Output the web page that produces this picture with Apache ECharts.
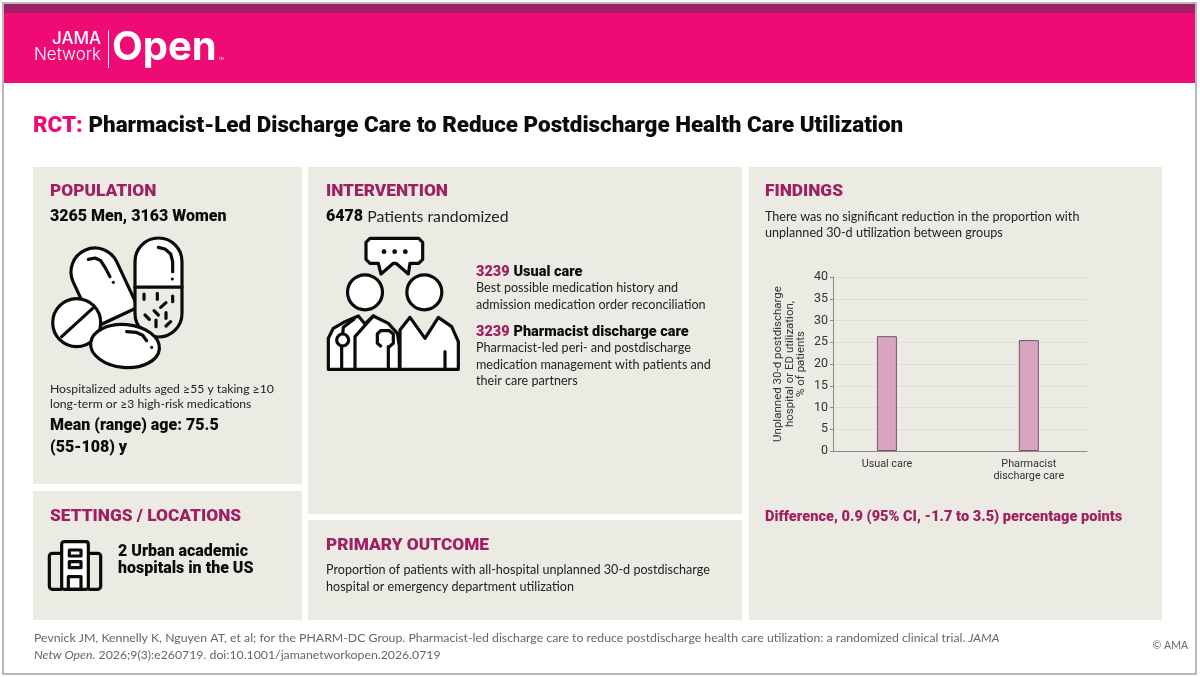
<!DOCTYPE html>
<html>
<head>
<meta charset="utf-8">
<title>RCT: Pharmacist-Led Discharge Care</title>
<script src="https://cdn.jsdelivr.net/npm/echarts@6/dist/echarts.min.js"></script>
<style>
html, body { margin: 0; padding: 0; background: #fff; }
#main { width: 1200px; height: 677px; }
</style>
</head>
<body>
<div id="main"></div>
<script>
// values in the Findings panel
var categories = ['Usual care', 'Pharmacist\ndischarge care'];
var categoryPositions = [0, 1];
var patientsPct = [26.4, 25.5];
var yTicks = [0, 40, 5];

var INK = '#0b0b0b', PANEL = '#ecebe3', PLUM = '#a01f62', PINK = '#ef0b74', BODY = '#222';
var SANS = 'Lato, sans-serif', HEAD = 'Roboto, sans-serif';
var BODY_SIZE = 12.6;

function text(x, y, str, size, o) {
    o = o || {};
    return {
        type: 'text', x: x, y: y, z: -1,
        style: {
            text: str, fill: o.fill || BODY, rich: o.rich,
            font: (o.italic ? 'italic ' : '') + (o.weight || 'normal') + ' ' + size + 'px ' + (o.family || SANS),
            align: o.align || 'left', verticalAlign: 'middle'
        }
    };
}
function head(x, y, str) { return text(x, y + 1, str, 17.3, { fill: PLUM, weight: 900, family: HEAD }); }
function bold(x, y, str, size) { return text(x, y + 1, str, size, { fill: INK, weight: 900, family: HEAD }); }
function panel(x, y, w, h) {
    return { type: 'rect', z: -1, shape: { x: x, y: y, width: w, height: h }, style: { fill: PANEL } };
}
var LINE = { stroke: INK, lineWidth: 3.2, lineCap: 'round', lineJoin: 'round', fill: null };
function s(extra) { return Object.assign({}, LINE, extra || {}); }
function seg(pts, ox, oy, lw) {
    return {
        type: 'polyline', z: -1,
        shape: { points: pts.map(function (p) { return [ox + p[0] / 3, oy + p[1] / 3]; }) },
        style: s({ lineWidth: lw || 3.2 })
    };
}
function poly(pts, ox, oy, fill) {
    return {
        type: 'polygon', z: -1,
        shape: { points: pts.map(function (p) { return [ox + p[0] / 3, oy + p[1] / 3]; }) },
        style: s({ fill: fill })
    };
}
function dot(x, y, r) {
    return { type: 'circle', z: -1, shape: { cx: x, cy: y, r: r }, style: { fill: INK } };
}

// pills icon
function pills() {
    var ox = 30, oy = 230, out = [];
    out.push({
        type: 'group', x: 95, y: 272, rotation: 25 * Math.PI / 180,
        children: [
            { type: 'rect', z: -1, shape: { x: -24, y: 50, width: 48, height: 48, r: [0, 0, 24, 24] }, style: s({ fill: PANEL }) },
            { type: 'rect', z: -1, shape: { x: -24, y: -24, width: 48, height: 74, r: [24, 24, 0, 0] }, style: s({ fill: '#fff' }) }
        ]
    });
    out.push(seg([[175, 88], [195, 84], [212, 92], [225, 112], [240, 140]], ox, oy));
    out.push(dot(30 + 250 / 3, 230 + 157 / 3, 1.6));
    out.push({ type: 'rect', z: -1, shape: { x: 135, y: 287, width: 47, height: 50, r: [0, 0, 23.5, 23.5] }, style: s({ fill: PANEL }) });
    out.push({ type: 'rect', z: -1, shape: { x: 135, y: 238, width: 47, height: 49, r: [23.5, 23.5, 0, 0] }, style: s({ fill: '#fff' }) });
    out.push(seg([[385, 52], [405, 57], [422, 72], [428, 95], [428, 125]], ox, oy));
    out.push(dot(30 + 427 / 3, 230 + 147 / 3, 1.6));
    [
        [[342, 192], [342, 208]], [[382, 190], [382, 208]], [[428, 198], [428, 215]],
        [[392, 232], [408, 218]], [[372, 242], [385, 255]], [[408, 248], [408, 265]],
        [[345, 255], [358, 268]], [[378, 270], [378, 290]], [[408, 288], [422, 275]]
    ].forEach(function (g) { out.push(seg(g, ox, oy)); });
    out.push({ type: 'circle', z: -1, shape: { cx: 76.7, cy: 322.7, r: 24 }, style: s({ fill: '#fff' }) });
    out.push(seg([[95, 320], [188, 235]], ox, oy));
    out.push({
        type: 'ellipse', z: -1, rotation: -5 * Math.PI / 180, x: 125, y: 346,
        shape: { cx: 0, cy: 0, rx: 34.5, ry: 21.5 }, style: s({ fill: '#fff' })
    });
    out.push(seg([[290, 305], [318, 307], [338, 316], [350, 332]], ox, oy));
    out.push(dot(30 + 365 / 3, 230 + 352 / 3, 1.6));
    return out;
}

// clinician and patient icon
function people() {
    var ox = 310, oy = 230, out = [];
    out.push(poly([[270, 418], [270, 300], [300, 262], [345, 325], [385, 262], [425, 290], [445, 335], [445, 418]], ox, oy, '#fff'));
    out.push(seg([[405, 365], [405, 418]], ox, oy));
    out.push(poly([[55, 418], [55, 325], [70, 295], [105, 275], [145, 258], [165, 282], [190, 258], [235, 280], [262, 310], [268, 350], [268, 418]], ox, oy, '#fff'));
    out.push(seg([[135, 418], [135, 320], [190, 258]], ox, oy));
    out.push(seg([[95, 350], [95, 418]], ox, oy));
    out.push(seg([[235, 350], [235, 418]], ox, oy));
    out.push(seg([[98, 312], [100, 292], [132, 268]], ox, oy));
    out.push({ type: 'circle', z: -1, shape: { cx: 310 + 98 / 3, cy: 230 + 330 / 3, r: 6 }, style: s({ fill: '#fff' }) });
    out.push(seg([[212, 348], [202, 340], [202, 312], [212, 302], [238, 302], [250, 312], [250, 340], [238, 350]], ox, oy));
    out.push({ type: 'circle', z: -1, shape: { cx: 310 + 165 / 3, cy: 230 + 187 / 3, r: 17.5 }, style: s({ fill: '#fff' }) });
    out.push({ type: 'circle', z: -1, shape: { cx: 310 + 343 / 3, cy: 230 + 187 / 3, r: 17.5 }, style: s({ fill: '#fff' }) });
    out.push(poly([[180, 25], [326, 25], [338, 37], [338, 88], [326, 100], [300, 100], [295, 132], [258, 100], [250, 100], [213, 132], [205, 100], [180, 100], [168, 88], [168, 37]], ox, oy, '#fff'));
    out.push(dot(310 + 222 / 3, 230 + 65 / 3, 2.4));
    out.push(dot(310 + 254 / 3, 230 + 65 / 3, 2.4));
    out.push(dot(310 + 286 / 3, 230 + 65 / 3, 2.4));
    return out;
}

// hospital icon
function hospital() {
    var ox = 30, oy = 530;
    function r(x0, y0, x1, y1, rad) {
        return {
            type: 'rect', z: -1,
            shape: { x: ox + x0 / 3, y: oy + y0 / 3, width: (x1 - x0) / 3, height: (y1 - y0) / 3, r: rad || 0 },
            style: s({ fill: rad === 2.5 ? '#fff' : null })
        };
    }
    return [
        r(58, 70, 100, 178, 3), r(170, 70, 212, 178, 3), r(95, 35, 175, 178, 2.5),
        r(118, 60, 153, 78), r(118, 95, 153, 113), r(115, 140, 153, 178)
    ];
}

var graphicEls = [
    { type: 'rect', z: -1, shape: { x: 3, y: 3, width: 1193, height: 671 }, style: { fill: '#fff', stroke: '#a3a3a3', lineWidth: 1.5 } },
    { type: 'rect', z: -1, shape: { x: 4, y: 4, width: 1191, height: 79 }, style: { fill: PINK } },
    { type: 'rect', z: -1, shape: { x: 4, y: 4, width: 1191, height: 9 }, style: { fill: PLUM } },
    text(101, 39, 'JAMA', 17, { fill: '#fff', align: 'right', family: 'Inter, sans-serif', weight: 500 }),
    text(101, 55, 'Network', 17, { fill: '#fff', align: 'right', family: 'Inter, sans-serif', weight: 300 }),
    { type: 'line', z: -1, shape: { x1: 108.5, y1: 30, x2: 108.5, y2: 68 }, style: { stroke: '#fff', lineWidth: 1 } },
    text(112, 48, 'Open', 40, { fill: '#fff', family: 'Inter, sans-serif', weight: 700 }),
    text(219, 59, 'TM', 3, { fill: '#fff' }),
    text(33, 126, '{a|RCT:} {b|Pharmacist-Led Discharge Care to Reduce Postdischarge Health Care Utilization}', 22.4, {
        weight: 900, family: HEAD,
        rich: {
            a: { fill: PINK, font: '900 22.4px ' + HEAD },
            b: { fill: INK, font: '900 22.4px ' + HEAD }
        }
    }),
    panel(33, 167, 269, 317), panel(33, 491, 269, 129),
    panel(308, 167, 434, 347), panel(308, 520, 434, 100),
    panel(749, 167, 413, 453),

    head(50, 191, 'POPULATION'),
    bold(50, 216, '3265 Men, 3163 Women', 16),
    text(50, 389, 'Hospitalized adults aged \u226555 y taking \u226510', 12.2),
    text(50, 404, 'long-term or \u22653 high-risk medications', 12.2),
    bold(50, 425, 'Mean (range) age: 75.5', 16),
    bold(50, 447, '(55-108) y', 16),

    head(50, 516, 'SETTINGS / LOCATIONS'),
    bold(118, 551, '2 Urban academic', 16),
    bold(118, 568, 'hospitals in the US', 16),

    head(326, 191, 'INTERVENTION'),
    text(326, 217, '{a|6478} {b|Patients randomized}', 16, {
        rich: { a: { fill: INK, font: '900 16px ' + HEAD }, b: { fill: BODY, font: '15.8px ' + SANS } }
    }),
    text(476, 272, '{a|3239} {b|Usual care}', 15, {
        rich: { a: { fill: PLUM, font: '900 14.5px ' + HEAD }, b: { fill: INK, font: '900 14.5px ' + HEAD } }
    }),
    text(476, 288, 'Best possible medication history and', BODY_SIZE),
    text(476, 305, 'admission medication order reconciliation', BODY_SIZE),
    text(476, 332, '{a|3239} {b|Pharmacist discharge care}', 15, {
        rich: { a: { fill: PLUM, font: '900 14.5px ' + HEAD }, b: { fill: INK, font: '900 14.5px ' + HEAD } }
    }),
    text(476, 348, 'Pharmacist-led peri- and postdischarge', BODY_SIZE),
    text(476, 365, 'medication management with patients and', BODY_SIZE),
    text(476, 381, 'their care partners', BODY_SIZE),

    head(326, 545, 'PRIMARY OUTCOME'),
    text(326, 570, 'Proportion of patients with all-hospital unplanned 30-d postdischarge', BODY_SIZE),
    text(326, 587, 'hospital or emergency department utilization', BODY_SIZE),

    head(765, 191, 'FINDINGS'),
    text(765, 217, 'There was no significant reduction in the proportion with', BODY_SIZE),
    text(765, 233, 'unplanned 30-d utilization between groups', BODY_SIZE),
    text(765, 517, 'Difference, 0.9 (95% CI, -1.7 to 3.5) percentage points', 14.6, { fill: PLUM, weight: 900, family: HEAD }),

    text(34, 638, '{a|Pevnick JM, Kennelly K, Nguyen AT, et al; for the PHARM-DC Group. Pharmacist-led discharge care to reduce postdischarge health care utilization: a randomized clinical trial. }{b|JAMA}', 12.3, {
        rich: { a: { fill: '#666', font: '12.3px ' + SANS }, b: { fill: '#666', font: 'italic 12.3px ' + SANS } }
    }),
    text(34, 655, '{b|Netw Open.} {a|2026;9(3):e260719. doi:10.1001/jamanetworkopen.2026.0719}', 12.3, {
        rich: { a: { fill: '#666', font: '12.3px ' + SANS }, b: { fill: '#666', font: 'italic 12.3px ' + SANS } }
    }),
    text(1188, 646, '\u00a9 AMA', 10.5, { fill: '#666', align: 'right' })
].concat(pills(), people(), hospital());

var myChart = echarts.init(document.getElementById('main'));
var option = {
    animation: false,
    backgroundColor: '#fff',
    graphic: { elements: graphicEls },
    grid: { left: 833, top: 277, width: 254, height: 174 },
    xAxis: {
        type: 'value',
        min: -0.38,
        max: 1.41,
        splitLine: { show: false },
        axisTick: { show: false },
        axisLine: { lineStyle: { color: '#8a8a8a', width: 1 } },
        axisLabel: {
            customValues: categoryPositions,
            margin: 7,
            fontSize: 10.8,
            lineHeight: 12,
            color: '#333',
            fontFamily: 'Roboto',
            verticalAlign: 'top',
            formatter: function (v) { return categories[v]; }
        }
    },
    yAxis: {
        type: 'value',
        min: yTicks[0],
        max: yTicks[1],
        interval: yTicks[2],
        name: 'Unplanned 30-d postdischarge\nhospital or ED utilization,\n% of patients',
        nameLocation: 'middle',
        nameRotate: 90,
        nameGap: 26,
        nameTextStyle: { fontSize: 11.5, lineHeight: 11.5, color: '#333', fontFamily: 'Roboto' },
        axisLine: { show: true, onZero: false, lineStyle: { color: '#8a8a8a', width: 1 } },
        axisTick: { show: true, length: 3, lineStyle: { color: '#8a8a8a' } },
        axisLabel: { fontSize: 12.5, margin: 5, color: '#333', fontFamily: 'Roboto' },
        splitLine: { show: true, lineStyle: { color: '#e0dfd6', width: 1 } }
    },
    series: [{
        type: 'bar',
        barWidth: 20,
        data: categoryPositions.map(function (p, i) { return [p, patientsPct[i]]; }),
        itemStyle: { color: '#d8a4c0', borderColor: '#6f5a68', borderWidth: 1 }
    }]
};
myChart.setOption(option);
</script>
</body>
</html>
